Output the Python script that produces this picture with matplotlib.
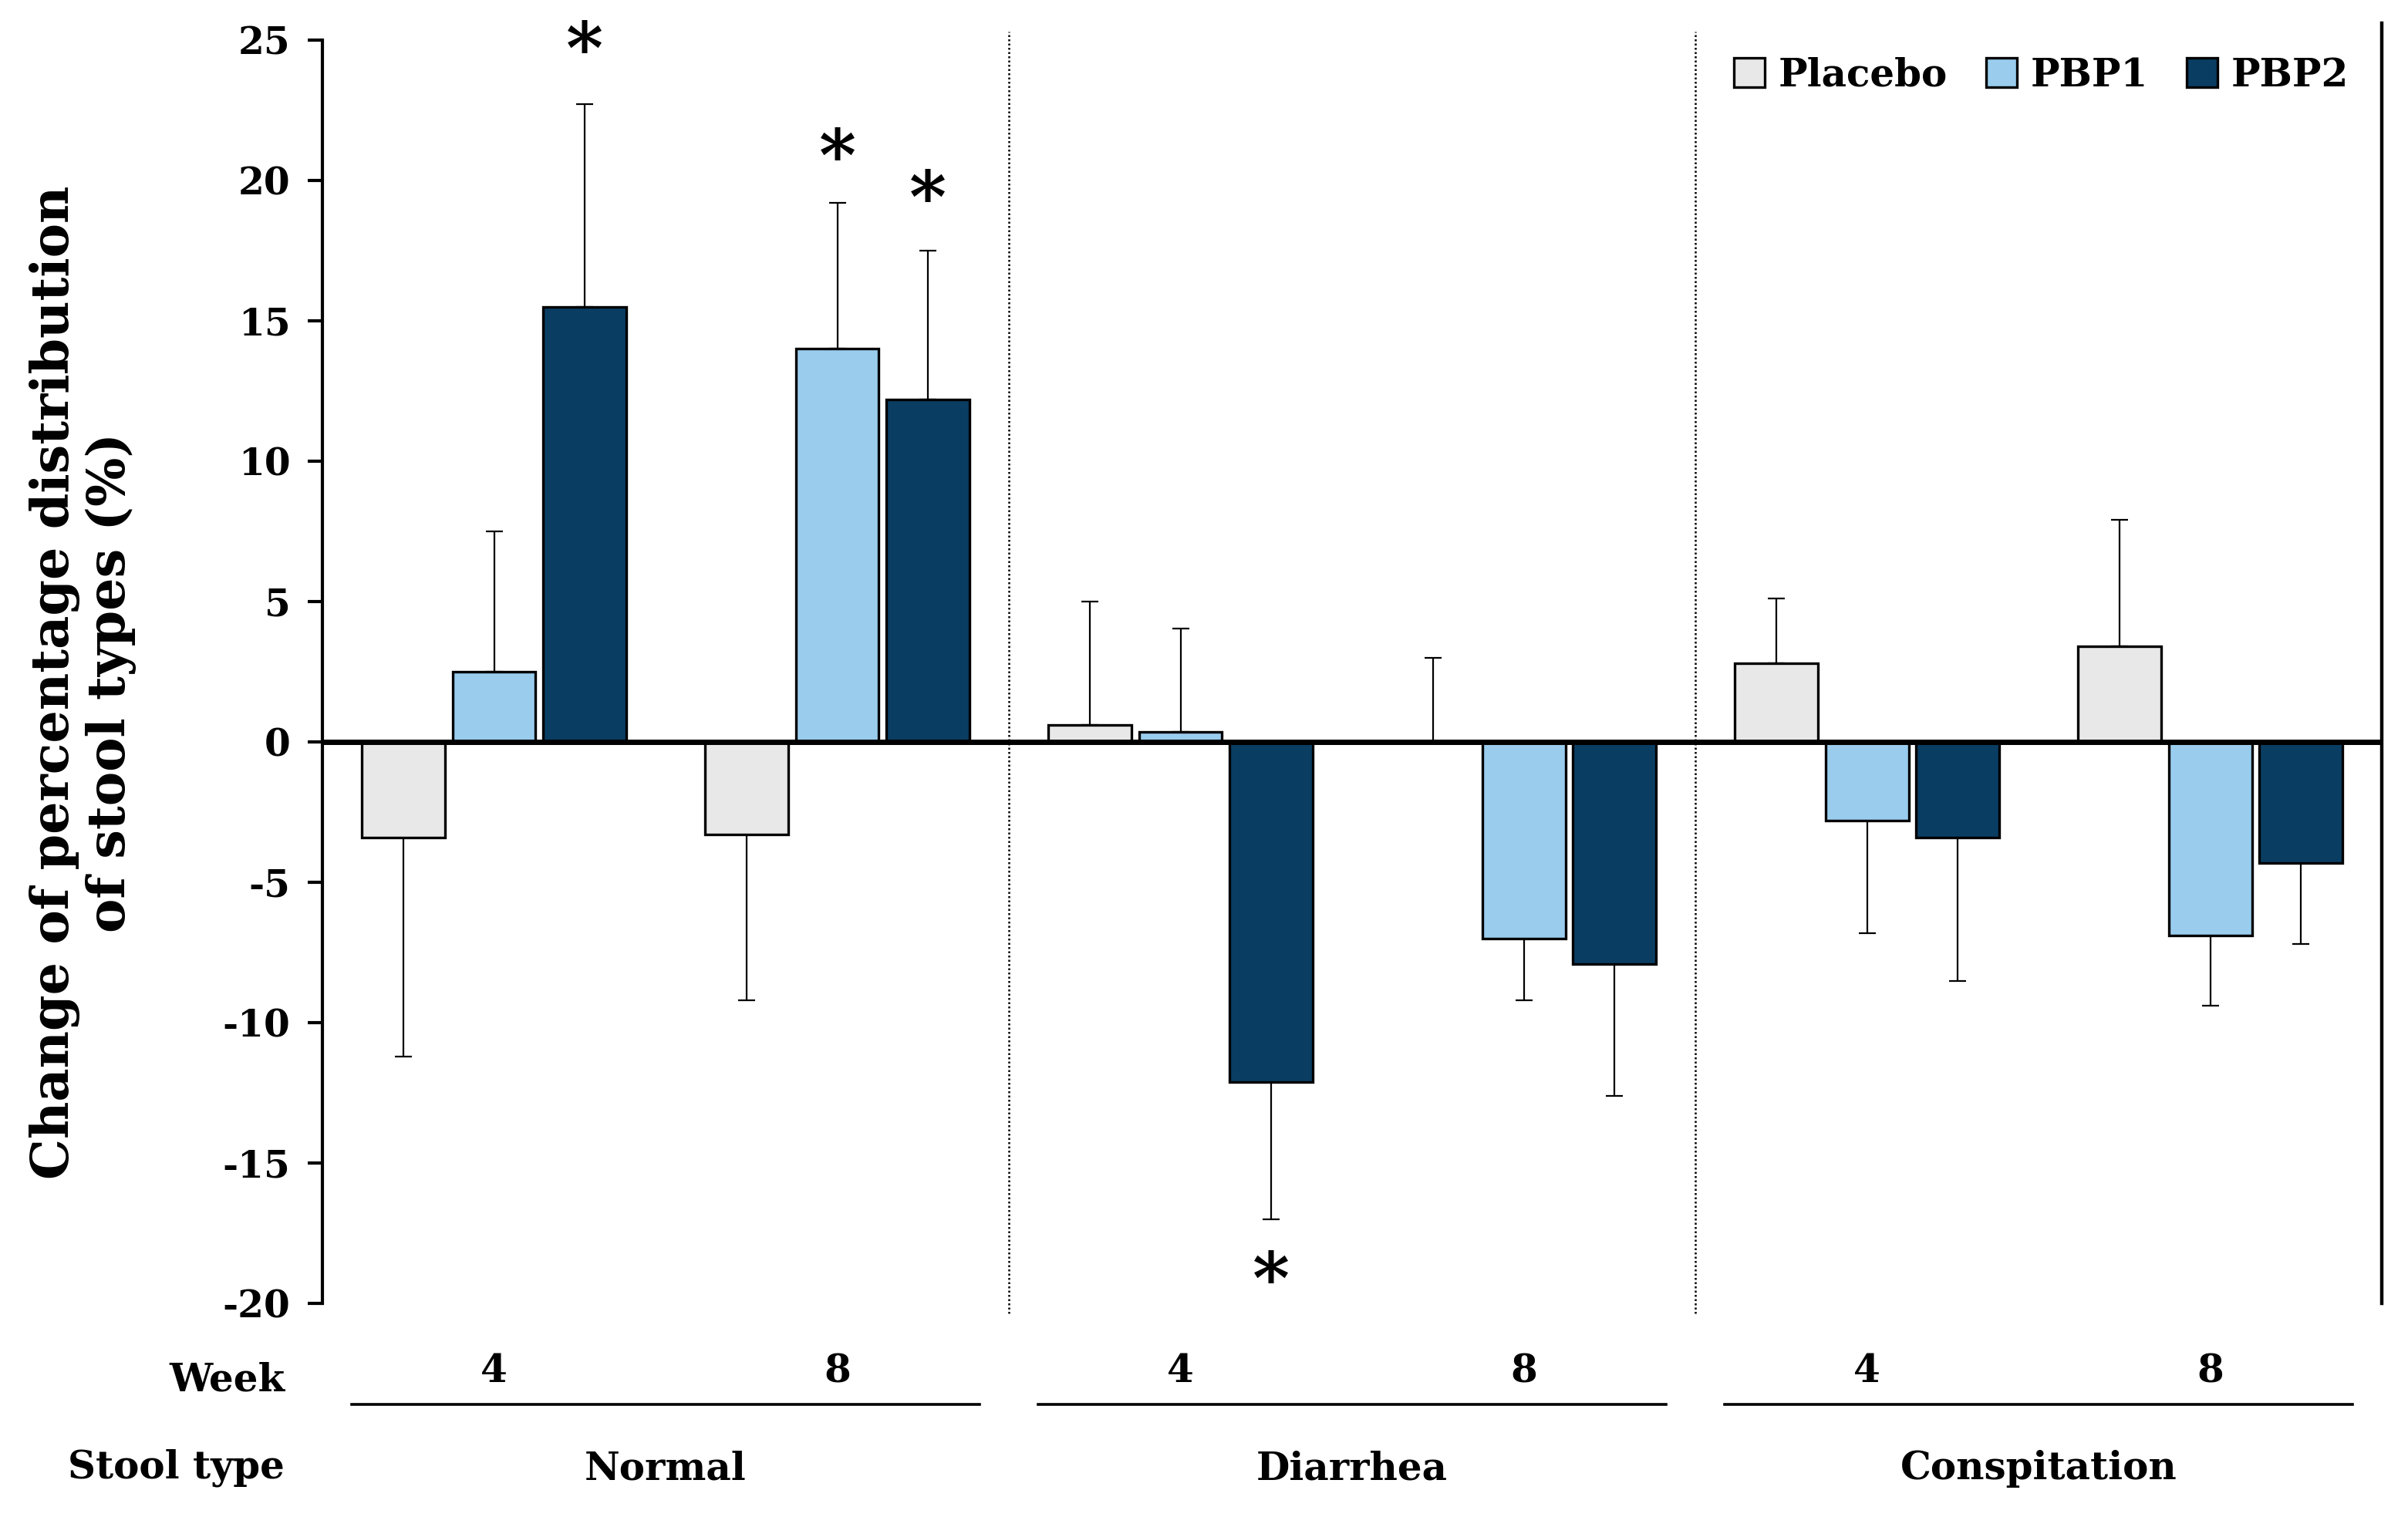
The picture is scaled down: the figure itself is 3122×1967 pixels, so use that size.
import numpy as np
import matplotlib.pyplot as plt
from matplotlib.lines import Line2D

plt.rcParams['font.family'] = ['DejaVu Serif']
plt.rcParams['font.weight'] = 'bold'
plt.rcParams['axes.unicode_minus'] = False

# groups: stool type x week
stool_types = ['Normal', 'Diarrhea', 'Conspitation']
weeks = ['4', '8', '4', '8', '4', '8']
groups = ['Placebo', 'PBP1', 'PBP2']

placebo = [-3.4, -3.3, 0.6, 0.0, 2.8, 3.4]
pbp1 = [2.5, 14.0, 0.35, -7.0, -2.8, -6.9]
pbp2 = [15.5, 12.2, -12.1, -7.9, -3.4, -4.3]

# one-sided error bars (SD), drawn away from zero
placebo_err = [7.8, 5.9, 4.4, 3.0, 2.3, 4.5]
pbp1_err = [5.0, 5.2, 3.7, 2.2, 4.0, 2.5]
pbp2_err = [7.2, 5.3, 4.9, 4.7, 5.1, 2.9]

# significance stars (group index, series index, y position)
stars = [(0, 2, 24.5), (1, 1, 20.7), (1, 2, 19.2), (2, 2, -19.3)]

colors = ['#e8e8e8', '#99cced', '#0a3d62']

fig = plt.figure(figsize=(15.61, 9.835), dpi=200)
ax = fig.add_axes([0.1339, 0.1407, 0.8553, 0.833])

x = np.arange(len(weeks))
width = 0.242
offsets = [-0.264, 0, 0.264]
values = [placebo, pbp1, pbp2]
errors = [placebo_err, pbp1_err, pbp2_err]

for i in range(3):
    vals = np.array(values[i])
    errs = np.array(errors[i])
    lower = np.where(vals < 0, errs, 0)
    upper = np.where(vals >= 0, errs, 0)
    ax.bar(x + offsets[i], vals, width, color=colors[i], edgecolor='black',
           linewidth=1.2, label=groups[i], zorder=2)
    ax.errorbar(x + offsets[i], vals, yerr=[lower, upper], fmt='none',
                ecolor='black', elinewidth=0.8, capsize=4, capthick=0.8, zorder=1)

for g, s, yy in stars:
    ax.text(x[g] + offsets[s], yy, '*', ha='center', va='center',
            fontsize=33, fontweight='bold')

ax.axhline(0, color='black', lw=2.5, zorder=3)

# dotted dividers and right border
for xd in [1.5, 3.5]:
    ax.plot([xd, xd], [-20.35, 25.3], color='black', lw=0.9, ls=(0, (1, 1.2)),
            clip_on=False, zorder=0)
ax.plot([5.5, 5.5], [-20, 25.6], color='black', lw=1.6, clip_on=False)

ax.set_xlim(-0.5, 5.5)
ax.set_ylim(-20, 25)
ax.set_yticks(np.arange(-20, 26, 5))
ax.tick_params(axis='y', direction='out', length=7, width=1.5, labelsize=17.5, pad=8)
ax.set_xticks([])
for sp in ['top', 'right', 'bottom']:
    ax.spines[sp].set_visible(False)
ax.spines['left'].set_linewidth(1.5)

# bottom category labels
trans = ax.get_xaxis_transform()
for i, w in enumerate(weeks):
    ax.text(x[i], -0.054, w, transform=trans, ha='center', va='center', fontsize=18)
for j, st in enumerate(stool_types):
    c = 2 * j + 0.5
    ax.text(c, -0.131, st, transform=trans, ha='center', va='center', fontsize=18)
    ax.add_line(Line2D([c - 0.915, c + 0.915], [-0.08, -0.08], transform=trans,
                       color='black', lw=1.3, clip_on=False))
ax.text(-0.61, -0.061, 'Week', transform=trans, ha='right', va='center', fontsize=18)
ax.text(-0.61, -0.13, 'Stool type', transform=trans, ha='right', va='center', fontsize=18)

fig.text(0.0344, 0.55, 'Change of percentage distribution\nof stool types (%)',
         rotation=90, ha='center', va='center', fontsize=24, fontweight='bold',
         linespacing=1.12)

ax.legend(loc='upper right', bbox_to_anchor=(0.995, 1.005), ncol=3, frameon=False,
          fontsize=18, handlelength=0.8, handleheight=0.8, handletextpad=0.35,
          columnspacing=1.0, borderaxespad=0.2)

fig.savefig('out.png', dpi=200)
